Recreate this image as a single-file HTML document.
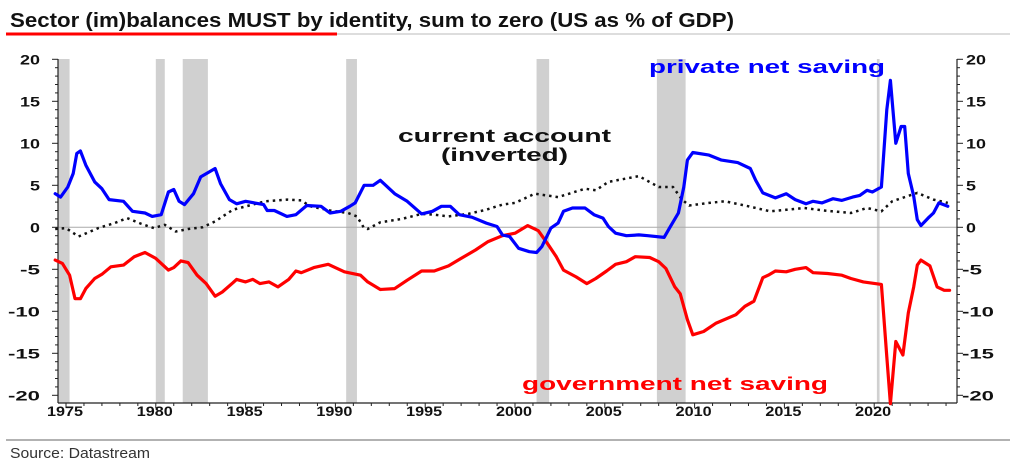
<!DOCTYPE html>
<html><head><meta charset="utf-8">
<style>
body{margin:0;background:#fff;width:1015px;height:466px;overflow:hidden;font-family:"Liberation Sans",sans-serif}
</style></head>
<body>
<svg id="chart" width="1015" height="466" xmlns="http://www.w3.org/2000/svg">
<text x="10" y="27" font-size="20" font-weight="bold" fill="#111" textLength="724" lengthAdjust="spacingAndGlyphs" font-family="Liberation Sans, sans-serif">Sector (im)balances MUST by identity, sum to zero (US as % of GDP)</text>
<line x1="6" y1="34" x2="1010" y2="34" stroke="#bbb" stroke-width="1"/>
<line x1="6" y1="34" x2="337" y2="34" stroke="#f00" stroke-width="3"/>
<line x1="6" y1="440" x2="1010" y2="440" stroke="#999" stroke-width="1.5"/>
<text x="10" y="458" font-size="15" fill="#333" textLength="140" lengthAdjust="spacingAndGlyphs">Source: Datastream</text>
<g id="plot"></g>
</svg>
<script>
const recessions=[[1973.9,1975.2],[1980.0,1980.5],[1981.5,1982.9],[1990.6,1991.2],[2001.2,2001.9],[2007.9,2009.5],[2020.15,2020.3]];
const yTicks=[20,15,10,5,0,-5,-10,-15,-20];
const xTickYears=[1975,1980,1985,1990,1995,2000,2005,2010,2015,2020];
const privYears=[1974.4,1974.7,1975.1,1975.4,1975.6,1975.8,1976.1,1976.6,1977.0,1977.4,1978.2,1978.7,1979.4,1979.8,1980.3,1980.7,1981.0,1981.3,1981.6,1982.1,1982.5,1983.3,1983.6,1984.1,1984.5,1985.0,1986.0,1986.2,1986.6,1987.3,1987.8,1988.4,1989.2,1989.7,1990.3,1990.8,1991.1,1991.6,1992.1,1992.5,1993.3,1994.0,1994.8,1995.4,1995.9,1996.4,1996.9,1997.6,1998.4,1999.0,1999.3,1999.7,2000.2,2000.8,2001.2,2001.5,2002.0,2002.4,2002.7,2003.2,2003.9,2004.4,2004.9,2005.2,2005.6,2006.2,2006.9,2007.4,2008.3,2008.6,2009.1,2009.4,2009.6,2009.9,2010.8,2011.5,2012.4,2013.1,2013.4,2013.8,2014.5,2015.1,2015.6,2016.2,2016.6,2017.1,2017.7,2018.2,2018.8,2019.2,2019.6,2019.9,2020.4,2020.7,2020.9,2021.2,2021.5,2021.7,2021.9,2022.2,2022.4,2022.6,2023.0,2023.3,2023.6,2024.1];
const privValues=[4.0,3.6,4.8,6.4,8.8,9.1,7.4,5.4,4.6,3.3,3.1,1.9,1.7,1.3,1.5,4.2,4.5,3.1,2.7,4.0,6.0,7.0,5.2,3.3,2.8,3.1,2.7,2.0,2.0,1.3,1.5,2.6,2.5,1.7,1.9,2.5,2.9,5.0,5.0,5.6,4.0,3.1,1.6,1.9,2.5,2.5,1.5,1.2,0.5,0.1,-0.9,-1.1,-2.5,-2.9,-3.0,-2.3,-0.1,0.5,1.9,2.3,2.3,1.5,1.1,0.1,-0.7,-1.0,-0.9,-1.0,-1.2,-0.1,1.7,4.8,8.0,8.9,8.6,8.0,7.7,7.0,5.6,4.1,3.5,4.0,3.3,2.8,3.1,2.9,3.4,3.2,3.6,3.8,4.4,4.2,4.8,14.0,17.5,10.0,12.0,12.0,6.4,3.7,0.9,0.2,1.1,1.7,2.9,2.5];
const govYears=[1974.4,1974.8,1975.2,1975.5,1975.8,1976.1,1976.6,1977.0,1977.5,1978.2,1978.8,1979.4,1980.0,1980.7,1981.0,1981.4,1981.8,1982.3,1982.8,1983.3,1983.7,1984.3,1984.5,1985.0,1985.4,1985.8,1986.3,1986.8,1987.4,1987.8,1988.1,1988.8,1989.6,1990.5,1991.4,1991.8,1992.5,1993.3,1994.0,1994.8,1995.5,1996.3,1997.0,1997.8,1998.5,1999.3,2000.0,2000.7,2001.3,2001.8,2002.3,2002.7,2003.4,2004.0,2004.5,2005.1,2005.6,2006.2,2006.7,2007.5,2008.0,2008.4,2008.9,2009.2,2009.6,2009.9,2010.5,2011.2,2012.3,2012.8,2013.3,2013.8,2014.1,2014.5,2015.1,2015.6,2016.2,2016.6,2017.4,2018.2,2018.7,2019.4,2020.4,2020.7,2020.9,2021.2,2021.6,2021.9,2022.2,2022.4,2022.6,2023.1,2023.5,2023.9,2024.2];
const govValues=[-3.9,-4.3,-5.7,-8.5,-8.5,-7.3,-6.1,-5.6,-4.7,-4.5,-3.5,-3.0,-3.7,-5.1,-4.8,-4.0,-4.2,-5.7,-6.7,-8.2,-7.7,-6.6,-6.2,-6.5,-6.2,-6.7,-6.5,-7.1,-6.2,-5.2,-5.4,-4.8,-4.4,-5.3,-5.7,-6.5,-7.4,-7.3,-6.3,-5.2,-5.2,-4.6,-3.7,-2.7,-1.7,-1.0,-0.7,0.2,-0.4,-1.9,-3.5,-5.1,-5.9,-6.7,-6.1,-5.2,-4.4,-4.1,-3.5,-3.6,-4.1,-4.9,-7.1,-7.9,-11.0,-12.8,-12.4,-11.4,-10.4,-9.4,-8.8,-6.0,-5.7,-5.2,-5.3,-5.0,-4.8,-5.4,-5.5,-5.7,-6.1,-6.5,-6.8,-15.4,-21.0,-13.6,-15.2,-10.2,-7.1,-4.5,-3.9,-4.6,-7.1,-7.5,-7.5];
const caYears=[1974.4,1975.0,1975.7,1976.8,1977.7,1978.4,1979.2,1979.9,1980.5,1981.1,1981.8,1982.6,1983.3,1984.3,1985.2,1986.1,1987.3,1988.1,1988.6,1989.7,1990.7,1991.2,1991.6,1991.8,1992.5,1993.7,1994.8,1995.5,1996.3,1997.4,1998.4,1999.3,2000.0,2001.1,2002.4,2003.9,2004.5,2005.2,2006.9,2008.0,2008.8,2009.3,2009.7,2010.8,2011.7,2013.0,2014.2,2016.1,2017.2,2018.7,2019.6,2020.4,2021.0,2022.4,2023.3,2024.1];
const caValues=[-0.2,-0.1,-1.1,-0.1,0.5,1.1,0.4,-0.1,0.3,-0.5,-0.2,0.0,0.7,2.1,2.6,3.1,3.3,3.2,2.5,2.0,1.7,1.3,-0.1,-0.2,0.6,1.0,1.6,1.5,1.3,1.6,2.1,2.7,2.9,4.0,3.6,4.6,4.4,5.4,6.1,4.8,4.8,3.3,2.6,2.9,3.1,2.5,1.9,2.3,2.0,1.7,2.3,1.9,3.1,4.1,3.3,2.9];

const L=58,R=957,T=59,B=403;
const x=yr=>66+(yr-1975)*17.96;
const y=v=>227.3-v*8.4;
const NS="http://www.w3.org/2000/svg";
const g=document.getElementById('plot');
function mk(tag,attrs){const e=document.createElementNS(NS,tag);for(const k in attrs)e.setAttribute(k,attrs[k]);g.appendChild(e);return e;}

recessions.forEach(r=>{
  const x0=Math.max(L,x(r[0])),x1=x(r[1]);
  const e=mk('rect',{x:x0,y:T,width:x1-x0,height:B-T,fill:'#d0d0d0'});
  
  
});
const zl=mk('line',{x1:L,x2:R,y1:y(0),y2:y(0),stroke:'#aaa','stroke-width':1});



const la=mk('line',{x1:L,x2:L,y1:T,y2:B,stroke:'#222','stroke-width':1.2});


const ra=mk('line',{x1:R,x2:R,y1:T,y2:B,stroke:'#222','stroke-width':1.2});


const xa=mk('line',{x1:L,x2:R,y1:B,y2:B,stroke:'#222','stroke-width':1.2});


for(let v=-20;v<=20;v++){
  const big=v%5===0;
  mk('line',{x1:L-(big?6:3),x2:L,y1:y(v),y2:y(v),stroke:'#222','stroke-width':1});
  mk('line',{x1:R,x2:R+(big?6:3),y1:y(v),y2:y(v),stroke:'#222','stroke-width':1});
}
yTicks.forEach(v=>{
  const s=String(v);
  const w=s.length===1?10:(s.length===2?20:32);
  const a=mk('text',{x:40-w,y:y(v)+5,'font-size':14,'font-weight':'bold',fill:'#111',textLength:w,lengthAdjust:'spacingAndGlyphs'});
  a.textContent=s;
  
  
  const b=mk('text',{x:v<0?962:966,y:y(v)+5,'font-size':14,'font-weight':'bold',fill:'#111',textLength:w,lengthAdjust:'spacingAndGlyphs'});
  b.textContent=s;
  
  
});
for(let yr=1975;yr<=2024;yr++){
  mk('line',{x1:x(yr),x2:x(yr),y1:B,y2:B+(yr%5===0?5:3),stroke:'#222','stroke-width':1});
}
xTickYears.forEach(yr=>{
  const t=mk('text',{x:x(yr)-19,y:B+13,'font-size':14,'font-weight':'bold',fill:'#111',textLength:36,lengthAdjust:'spacingAndGlyphs'});
  t.textContent=yr;
  
  
});

function line(xs,vs,attrs){
  const d=xs.map((yr,i)=>(i?'L':'M')+x(yr).toFixed(1)+','+y(vs[i]).toFixed(1)).join('');
  return mk('path',Object.assign({d:d,fill:'none','stroke-linejoin':'round','stroke-linecap':'round'},attrs));
}
const ca=line(caYears,caValues,{stroke:'#111','stroke-width':2.5,'stroke-dasharray':'2.5 4','stroke-linecap':'butt'});


const gv=line(govYears,govValues,{stroke:'#ff0000','stroke-width':3.2});


const pv=line(privYears,privValues,{stroke:'#0000ff','stroke-width':3.2});



function label(txt,xx,yy,w,col,name){
  const t=mk('text',{x:xx,y:yy,'font-size':18,'font-weight':'bold',fill:col,textLength:w,lengthAdjust:'spacingAndGlyphs'});
  t.textContent=txt;
  
  
}
label('private net saving',649,73,236,'#0000ff','private-label');
label('government net saving',522,390,306,'#ff0000','government-label');
label('current account',398,142,213,'#111','current-account-label');
label('(inverted)',441,161,127,'#111','current-account-inverted-label');
</script>
</body></html>
